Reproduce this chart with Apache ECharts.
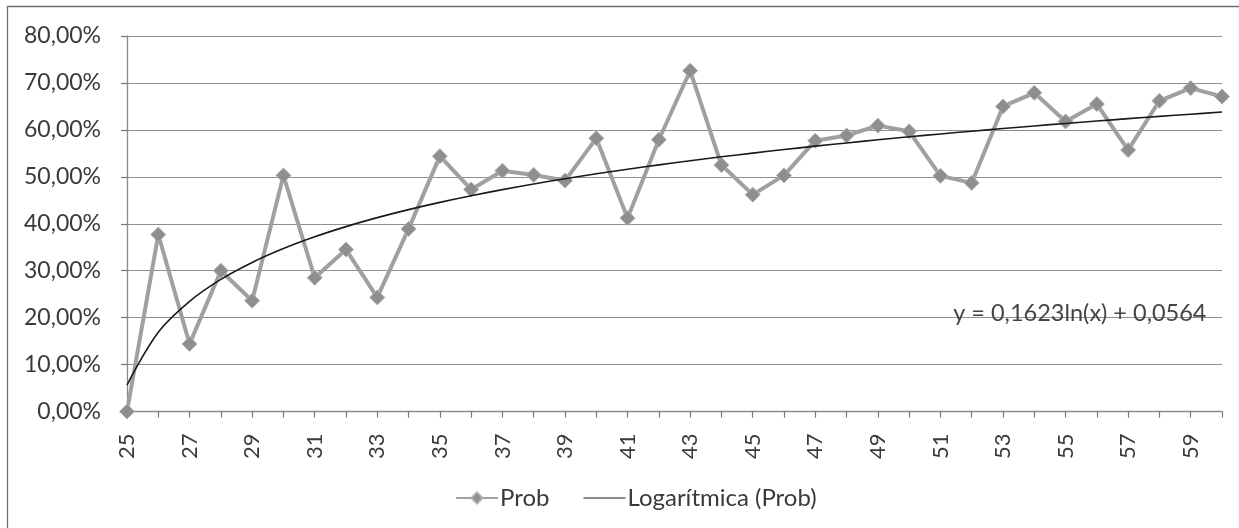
<!DOCTYPE html>
<html>
<head>
<meta charset="utf-8">
<script src="https://cdn.jsdelivr.net/npm/echarts@6/dist/echarts.min.js"></script>
<style>
  html, body { margin: 0; padding: 0; background: #fff; }
  #chart { width: 1239px; height: 528px; }
</style>
</head>
<body>
<div id="chart"></div>
<script>
// Categories (age)
const categories = ['25','26','27','28','29','30','31','32','33','34','35','36','37','38','39','40','41','42',
                    '43','44','45','46','47','48','49','50','51','52','53','54','55','56','57','58','59','60'];
// Prob series (percent)
const probValues = [0.0, 37.7, 14.4, 30.0, 23.6, 50.3, 28.5, 34.5, 24.3, 38.9, 54.4, 47.3,
                    51.3, 50.4, 49.2, 58.2, 41.2, 57.9, 72.6, 52.5, 46.2, 50.3, 57.7, 58.8,
                    60.9, 59.7, 50.2, 48.7, 65.0, 67.9, 61.8, 65.5, 55.7, 66.2, 68.9, 67.1];
// Logarithmic trendline coefficients as printed on the chart: y = 0,1623ln(x) + 0,0564
const trendA = 0.1623;
const trendB = 0.0564;
const trendLabel = 'y = 0,1623ln(x) + 0,0564';
const yTicks = [0, 10, 20, 30, 40, 50, 60, 70, 80];

const trendValues = categories.map((c, i) => +((trendA * Math.log(i + 1) + trendB) * 100).toFixed(3));

const FONT = 'Lato';
const TXT = '#3a3a3a';

const chart = echarts.init(document.getElementById('chart'), null, { renderer: 'canvas' });
chart.setOption({
  animation: false,
  backgroundColor: '#ffffff',
  textStyle: { fontFamily: FONT },
  grid: { left: 127, right: 17, top: 36, bottom: 116.5, containLabel: false },
  xAxis: {
    type: 'category',
    data: categories,
    boundaryGap: false,
    axisLine: { show: true, lineStyle: { color: '#8a8a8a', width: 1.3 } },
    axisTick: { show: true, interval: 0, inside: false, length: 6, lineStyle: { color: '#777', width: 1.2 } },
    axisLabel: { interval: 1, rotate: 90, margin: 22, fontSize: 22, color: TXT, fontFamily: FONT },
    splitLine: { show: false }
  },
  yAxis: {
    type: 'value',
    min: yTicks[0],
    max: yTicks[yTicks.length - 1],
    interval: 10,
    axisLine: { show: true, lineStyle: { color: '#8a8a8a', width: 1.3 } },
    axisTick: { show: true, inside: false, length: 6, lineStyle: { color: '#777', width: 1.2 } },
    axisLabel: {
      margin: 26, fontSize: 23, color: TXT, fontFamily: FONT,
      formatter: v => v.toFixed(2).replace('.', ',') + '%'
    },
    splitLine: { show: true, lineStyle: { color: '#8f8f8f', width: 1.2 } }
  },
  legend: {
    top: 481,
    left: 450,
    itemWidth: 42,
    itemHeight: 14,
    itemGap: 34,
    textStyle: { fontSize: 24, color: TXT, fontFamily: FONT, padding: [0, 0, 0, -3] },
    data: [
      { name: 'Prob' },
      { name: 'Logarítmica (Prob)', icon: 'path://M0,0 L40,0 L40,1 L0,1 Z' }
    ]
  },
  graphic: [
    {
      type: 'rect',
      shape: { x: 7.5, y: 6.5, width: 1300, height: 600 },
      style: { fill: 'none', stroke: '#6e6e6e', lineWidth: 1.3 },
      silent: true
    }
  ],
  series: [
    {
      name: 'Prob',
      type: 'line',
      data: probValues,
      symbol: 'diamond',
      symbolSize: 15,
      lineStyle: { color: '#a0a0a0', width: 4 },
      itemStyle: { color: '#8e8e8e', borderColor: '#b0b0b0', borderWidth: 1 },
      z: 3
    },
    {
      name: 'Logarítmica (Prob)',
      type: 'line',
      data: trendValues,
      symbol: 'none',
      smooth: 0.35,
      lineStyle: { color: '#1a1a1a', width: 1.6 },
      itemStyle: { color: '#1a1a1a' },
      z: 4,
      markPoint: {
        symbol: 'rect',
        symbolSize: 1,
        itemStyle: { color: 'transparent' },
        label: {
          show: true,
          formatter: trendLabel,
          fontSize: 23.5,
          color: '#444',
          fontFamily: FONT,
          position: 'left',
          distance: 0,
          offset: [-15, 0]
        },
        data: [{ coord: [categories.length - 1, 20.9] }]
      }
    }
  ]
});
</script>
</body>
</html>
